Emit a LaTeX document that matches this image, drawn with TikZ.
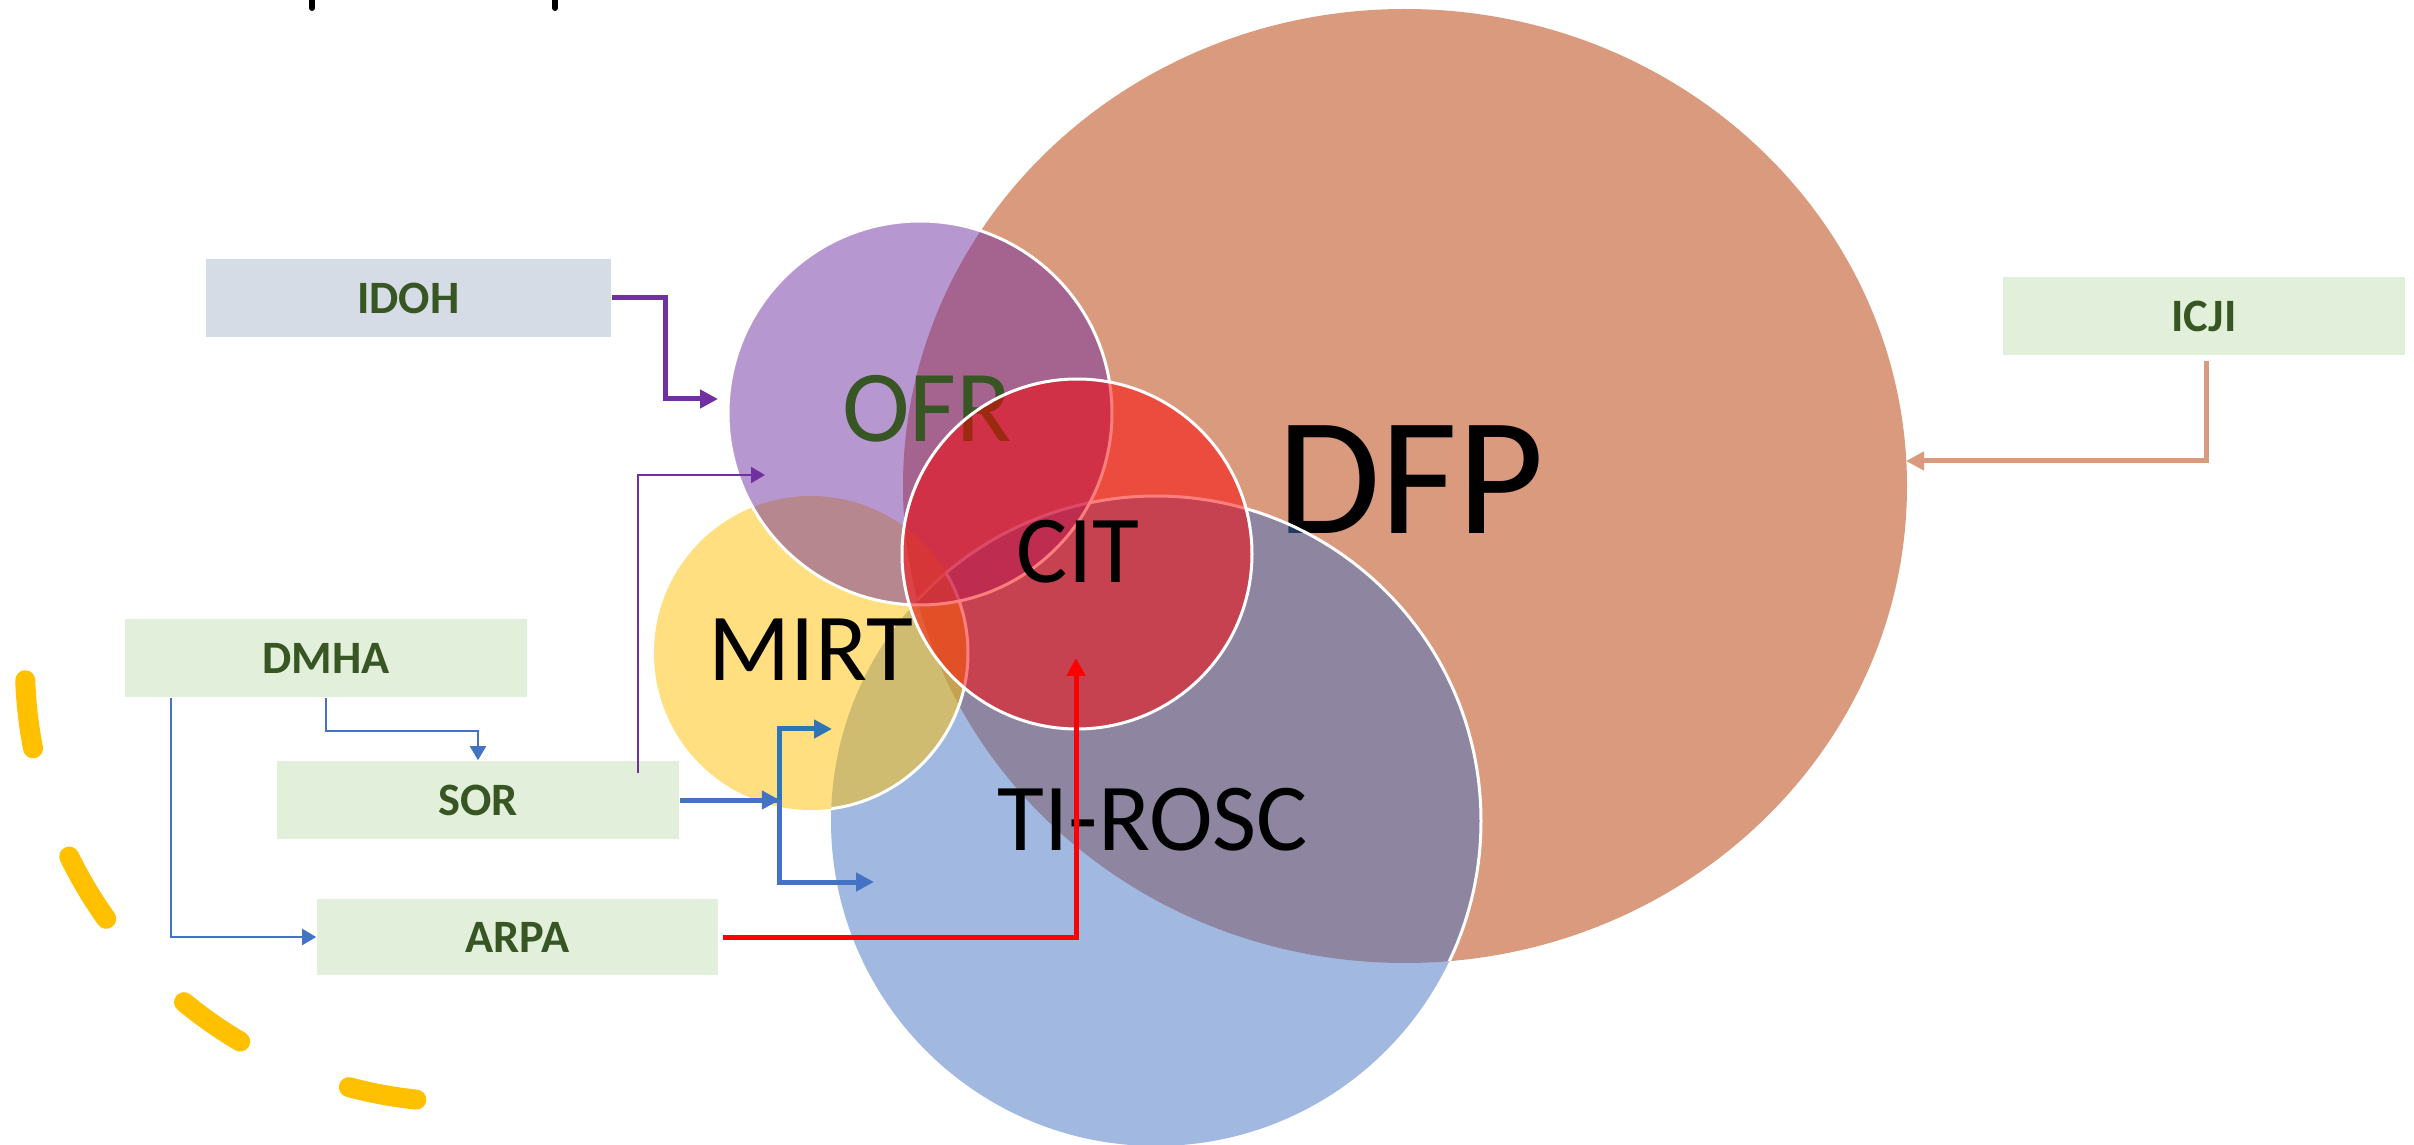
\documentclass[tikz,border=0pt]{standalone}
\usepackage{fontspec}
\setmainfont{Carlito}
\usetikzlibrary{arrows.meta,calc}
\definecolor{dfpc}{HTML}{D99A7E}
\definecolor{boxgreen}{HTML}{E2EFDA}
\definecolor{boxgrey}{HTML}{D6DCE5}
\definecolor{txtgreen}{HTML}{375623}
\definecolor{purp}{HTML}{7030A0}
\definecolor{goldc}{HTML}{FFC000}
\definecolor{bluec}{HTML}{4472C4}
\definecolor{blueb}{HTML}{2E75B6}
\definecolor{redc}{HTML}{FF0000}
\begin{document}
\begin{tikzpicture}[x=0.25pt,y=0.25pt,
  boxnode/.style={fill=boxgreen, inner sep=0pt, minimum width=100.5pt, minimum height=19.5pt,
     text=txtgreen, font=\bfseries\fontsize{11.6}{14}\selectfont},
  biglbl/.style={inner sep=0pt, font=\fontsize{24}{28}\selectfont, text=black},
  venn/.style={fill opacity=0.5},
  wline/.style={draw=white, line width=0.75pt},
  thickarr/.style={line width=1.25pt, -{Triangle[length=4.5pt,width=4.5pt]}},
  thinarr/.style={line width=0.5pt, -{Triangle[length=3.5pt,width=4pt]}},
  yel/.style={draw=goldc, line width=5pt, line cap=round}
]
\useasboundingbox (0,0) rectangle (2414,-1145);

% centres
\coordinate (cDFP) at (1405,-486);
\coordinate (cTI) at (1156,-821);
\coordinate (cMIRT) at (811,-653);
\coordinate (cOFR) at (920,-413);
\coordinate (cCIT) at (1077,-554);
\coordinate (yc) at (462,-665);

% DFP
\fill[dfpc] (cDFP) ellipse [x radius=502, y radius=477];
\node[biglbl, font=\fontsize{42}{50}\selectfont] (lDFP) at (1411,-480) {DFP};

% TI-ROSC
\fill[bluec, venn] (cTI) circle [radius=325];
\begin{scope}
  \clip (cDFP) ellipse [x radius=502, y radius=477];
  \draw[wline] (cTI) circle [radius=325];
\end{scope}
\node[biglbl] (lTI) at (1153,-820) {TI-ROSC};

% MIRT
\fill[goldc, venn] (cMIRT) circle [radius=157];
\begin{scope}
  \clip (cTI) circle [radius=325];
  \draw[wline] (cMIRT) circle [radius=157];
\end{scope}
\node[biglbl] (lMIRT) at (811,-650) {MIRT};

% OFR
\fill[purp, venn] (cOFR) circle [radius=192];
\draw[wline] (cOFR) circle [radius=192];
\node[biglbl, text=txtgreen, font=\fontsize{25.5}{30}\selectfont] (lOFR) at (927,-409) {OFR};

% CIT
\fill[redc, venn] (cCIT) circle [radius=175];
\draw[wline] (cCIT) circle [radius=175];
\node[biglbl] (lCIT) at (1078,-552) {CIT};

% boxes
\node[boxnode, fill=boxgrey, minimum width=101.25pt] (IDOH) at (408.5,-298) {IDOH};
\node[boxnode] (ICJI) at (2204,-316) {ICJI};
\node[boxnode] (DMHA) at (326,-658) {DMHA};
\node[boxnode] (SOR) at (478,-800) {SOR};
\node[boxnode, minimum width=100.25pt, minimum height=19pt] (ARPA) at (517.5,-937) {ARPA};

% arrow targets
\coordinate (idohT) at (718,-399);
\coordinate (ofrT) at (765,-475);
\coordinate (sorP) at ($(SOR.north)+(160,-13)$);
\coordinate (mirtT) at (832,-729);
\coordinate (tiT) at (874,-882);
\coordinate (citT) at (1076,-658);
\coordinate (dfpT) at (1906,-461);

% connectors
\draw[thickarr, purp] (IDOH.east) -- ++(54,0) |- (idohT);
\draw[thinarr, purp] (sorP) |- (ofrT);
\draw[thinarr, bluec] (DMHA.south) -- ++(0,-33) -| (SOR.north);
\draw[thinarr, bluec] ($(DMHA.south west)+(47,0)$) |- (ARPA.west);
\draw[thickarr, bluec] (SOR.east) -- ++(100,0) |- (tiT);
\draw[thickarr, blueb] ($(SOR.east)+(100,0)$) |- (mirtT);
\draw[thickarr, bluec] (SOR.east) -- ++(100,0);
\draw[thickarr, redc] ($(ARPA.east)+(4,0)$) -| (citT);
\draw[thickarr, dfpc] ($(ICJI.south)+(2,-5)$) |- (dfpT);

% yellow dashed arc
\draw[yel] ($(yc)+(182:437)$) arc [start angle=182, end angle=191, radius=437];
\draw[yel] ($(yc)+(206:437)$) arc [start angle=206, end angle=215.5, radius=437];
\draw[yel] ($(yc)+(230.5:437)$) arc [start angle=230.5, end angle=239.5, radius=437];
\draw[yel] ($(yc)+(255:437)$) arc [start angle=255, end angle=264, radius=437];

% cut-off marks at the top edge
\draw[line width=1.5pt, line cap=round] (312,12) -- (312,-8);
\draw[line width=1.5pt, line cap=round] (555,12) -- (555,-8);
\end{tikzpicture}
\end{document}
